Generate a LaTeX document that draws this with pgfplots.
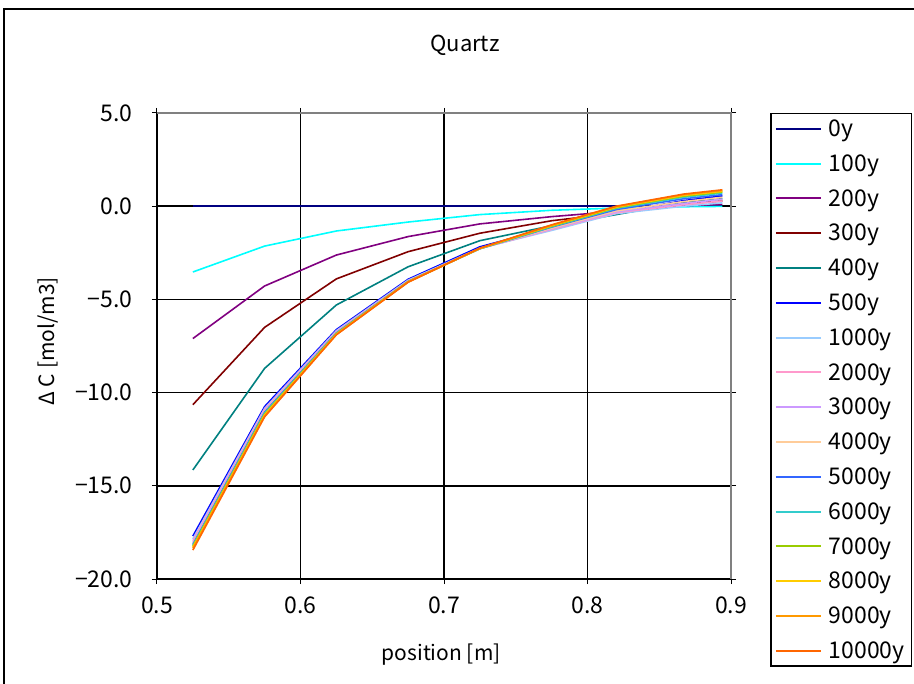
\documentclass[border=0pt]{standalone}
\usepackage{pgfplots}
\pgfplotsset{compat=1.18}
\usepackage{pgfplotstable}
\usepackage{fontspec}
\setmainfont{Noto Sans CJK JP}

\definecolor{c0}{HTML}{000080}
\definecolor{c100}{HTML}{00FFFF}
\definecolor{c200}{HTML}{800080}
\definecolor{c300}{HTML}{800000}
\definecolor{c400}{HTML}{008080}
\definecolor{c500}{HTML}{0000FF}
\definecolor{c1000}{HTML}{99CCFF}
\definecolor{c2000}{HTML}{FF99CC}
\definecolor{c3000}{HTML}{CC99FF}
\definecolor{c4000}{HTML}{FFCC99}
\definecolor{c5000}{HTML}{3366FF}
\definecolor{c6000}{HTML}{33CCCC}
\definecolor{c7000}{HTML}{99CC00}
\definecolor{c8000}{HTML}{FFCC00}
\definecolor{c9000}{HTML}{FF9900}
\definecolor{c10000}{HTML}{FF6600}

% dC at each position, one column per elapsed time
\pgfplotstableread{
x t0 t100 t200 t300 t400 t500 t1000 t2000 t3000 t4000 t5000 t6000 t7000 t8000 t9000 t10000
0.525 0 -3.53 -7.10 -10.65 -14.15 -17.70 -17.85 -17.95 -18.05 -18.10 -18.15 -18.20 -18.25 -18.30 -18.35 -18.45
0.575 0 -2.14 -4.28 -6.50 -8.70 -10.75 -10.85 -10.90 -10.95 -11.00 -11.05 -11.10 -11.15 -11.20 -11.25 -11.30
0.625 0 -1.33 -2.62 -3.90 -5.30 -6.62 -6.68 -6.72 -6.75 -6.78 -6.80 -6.82 -6.84 -6.86 -6.88 -6.90
0.675 0 -0.85 -1.63 -2.44 -3.25 -3.92 -3.97 -4.00 -4.02 -4.03 -4.04 -4.05 -4.05 -4.06 -4.07 -4.08
0.725 0 -0.45 -0.95 -1.45 -1.85 -2.18 -2.25 -2.27 -2.28 -2.28 -2.28 -2.28 -2.27 -2.27 -2.26 -2.25
0.775 0 -0.22 -0.56 -0.78 -1.05 -1.15 -1.30 -1.25 -1.22 -1.18 -1.12 -1.10 -1.07 -1.04 -1.02 -1.00
0.820 0 -0.10 -0.28 -0.38 -0.45 -0.35 -0.40 -0.35 -0.30 -0.25 -0.18 -0.12 -0.08 -0.05 -0.02 0.00
0.867 0 -0.03 0.02 0.12 0.20 0.30 0.00 0.08 0.15 0.25 0.40 0.48 0.54 0.58 0.62 0.65
0.894 0 -0.01 0.10 0.28 0.40 0.55 0.18 0.28 0.38 0.48 0.62 0.70 0.76 0.80 0.84 0.88
}\datatable

\begin{document}
\begin{tikzpicture}[x=1pt,y=1pt]
\useasboundingbox (0,0) rectangle (914,-684);
\draw[line width=2pt] (4,-684) -- (4,-9) -- (914,-9);
\node[font=\fontsize{22}{26}\selectfont] at (465,-45) {Quartz};
\begin{axis}[
	at={(157pt,-113pt)}, anchor=north west,
	scale only axis,
	width=574pt, height=466pt,
	xmin=0.5, xmax=0.9,
	ymin=-20, ymax=5,
	xtick={0.5,0.6,0.7,0.8,0.9},
	xticklabels={0.5,0.6,0.7,0.8,0.9},
	ytick={-20,-15,-10,-5,0,5},
	yticklabels={−20.0,−15.0,−10.0,−5.0,0.0,5.0},
	grid=major,
	major grid style={black, line width=1.5pt},
	axis line style={black, line width=1.5pt},
	tick style={black, line width=1pt},
	tick align=outside,
	major tick length=5pt,
	ticklabel style={font=\fontsize{23}{26}\selectfont},
	xticklabel style={yshift=-9pt},
	yticklabel style={xshift=-16pt},
	xlabel={position [m]},
	ylabel={Δ C [mol/m3]},
	label style={font=\fontsize{21}{24}\selectfont},
	xlabel style={at={(axis description cs:0.495,-0.163)}, anchor=center},
	ylabel style={at={(axis description cs:-0.19,0.51)}, anchor=center},
	legend style={at={(1,1)}, anchor=north west, xshift=39pt,
		draw=black, line width=1.5pt, font=\fontsize{23}{26}\selectfont,
		row sep=14.6pt, column sep=4pt, inner xsep=4pt, inner ysep=5pt,
		nodes={inner ysep=1pt, inner xsep=3pt, line width=1.5pt}},
	legend cell align=left,
	legend image code/.code={\draw[#1, line width=2pt] (0pt,0pt) -- (45pt,0pt);},
	every axis plot/.append style={line width=1.6pt},
	clip=false,
]
\addplot[c0] table[x=x, y=t0] {\datatable};
\addlegendentry{0y}
\addplot[c100] table[x=x, y=t100] {\datatable};
\addlegendentry{100y}
\addplot[c200] table[x=x, y=t200] {\datatable};
\addlegendentry{200y}
\addplot[c300] table[x=x, y=t300] {\datatable};
\addlegendentry{300y}
\addplot[c400] table[x=x, y=t400] {\datatable};
\addlegendentry{400y}
\addplot[c500] table[x=x, y=t500] {\datatable};
\addlegendentry{500y}
\addplot[c1000] table[x=x, y=t1000] {\datatable};
\addlegendentry{1000y}
\addplot[c2000] table[x=x, y=t2000] {\datatable};
\addlegendentry{2000y}
\addplot[c3000] table[x=x, y=t3000] {\datatable};
\addlegendentry{3000y}
\addplot[c4000] table[x=x, y=t4000] {\datatable};
\addlegendentry{4000y}
\addplot[c5000] table[x=x, y=t5000] {\datatable};
\addlegendentry{5000y}
\addplot[c6000] table[x=x, y=t6000] {\datatable};
\addlegendentry{6000y}
\addplot[c7000] table[x=x, y=t7000] {\datatable};
\addlegendentry{7000y}
\addplot[c8000] table[x=x, y=t8000] {\datatable};
\addlegendentry{8000y}
\addplot[c9000] table[x=x, y=t9000] {\datatable};
\addlegendentry{9000y}
\addplot[c10000] table[x=x, y=t10000] {\datatable};
\addlegendentry{10000y}
\draw[gray, line width=2pt] (rel axis cs:0,1) -- (rel axis cs:1,1) -- (rel axis cs:1,0);
\end{axis}
\end{tikzpicture}
\end{document}
